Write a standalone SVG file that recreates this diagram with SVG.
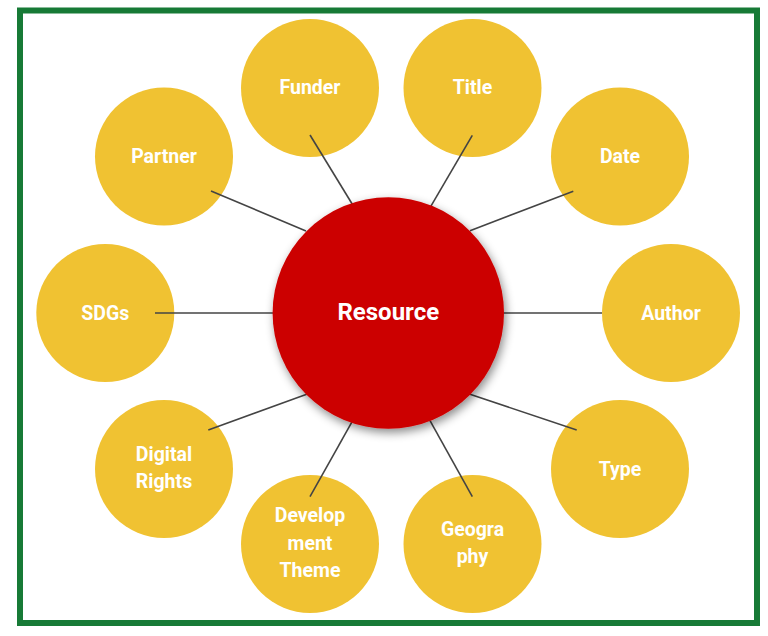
<svg xmlns="http://www.w3.org/2000/svg" width="768" height="636" viewBox="0 0 768 636">
<style>
.sat{fill:#F0C232}
.lbl{font-family:Roboto,"Liberation Sans",sans-serif;font-weight:bold;font-size:19.5px;fill:#ffffff;text-anchor:middle}
.big{font-size:24px}
.conn line{stroke:#444444;stroke-width:1.6}
</style>
<defs>
<filter id="shadow" x="-20%" y="-20%" width="140%" height="140%">
<feDropShadow dx="2" dy="4" stdDeviation="5" flood-color="#000000" flood-opacity="0.45"/>
</filter>
</defs>
<rect x="0" y="0" width="768" height="636" fill="#ffffff"/>
<rect x="20" y="10.5" width="737" height="612.5" fill="none" stroke="#177A36" stroke-width="6"/>
<g id="funder"><circle class="sat" cx="310" cy="88" r="69"/><text class="lbl" x="310" y="94">Funder</text></g>
<g id="title"><circle class="sat" cx="472.5" cy="88" r="69"/><text class="lbl" x="472.5" y="94">Title</text></g>
<g id="partner"><circle class="sat" cx="164" cy="156.5" r="69"/><text class="lbl" x="164" y="163">Partner</text></g>
<g id="date"><circle class="sat" cx="620" cy="156.5" r="69"/><text class="lbl" x="620" y="163">Date</text></g>
<g id="sdgs"><circle class="sat" cx="105.3" cy="313" r="69"/><text class="lbl" x="105.3" y="319.5">SDGs</text></g>
<g id="author"><circle class="sat" cx="671" cy="313" r="69"/><text class="lbl" x="671" y="319.5">Author</text></g>
<g id="digital-rights"><circle class="sat" cx="164" cy="469" r="69"/><text class="lbl" x="164" y="460.7">Digital</text><text class="lbl" x="164" y="488.3">Rights</text></g>
<g id="type"><circle class="sat" cx="620" cy="469" r="69"/><text class="lbl" x="620" y="475.5">Type</text></g>
<g id="development-theme"><circle class="sat" cx="310" cy="544" r="69"/><text class="lbl" x="310" y="522.3">Develop</text><text class="lbl" x="310" y="550">ment</text><text class="lbl" x="310" y="577.3">Theme</text></g>
<g id="geography"><circle class="sat" cx="472.5" cy="544" r="69"/><text class="lbl" x="472.5" y="535.7">Geogra</text><text class="lbl" x="472.5" y="563.3">phy</text></g>
<g id="connectors" class="conn">
<line x1="310" y1="135" x2="354" y2="207"/>
<line x1="472.3" y1="135.3" x2="428.3" y2="210.7"/>
<line x1="211" y1="191" x2="306" y2="231"/>
<line x1="573.3" y1="191.3" x2="470" y2="230.7"/>
<line x1="155" y1="313" x2="274" y2="313"/>
<line x1="504" y1="313" x2="602" y2="313"/>
<line x1="208.3" y1="430" x2="306.7" y2="394.3"/>
<line x1="576.7" y1="430" x2="470" y2="394.3"/>
<line x1="310" y1="496.7" x2="352.7" y2="420.7"/>
<line x1="472.3" y1="496.7" x2="430" y2="420.7"/>
</g>
<g id="resource"><circle cx="388.3" cy="313" r="115.7" fill="#CC0000" filter="url(#shadow)"/><text class="lbl big" x="388.3" y="320">Resource</text></g>
</svg>
